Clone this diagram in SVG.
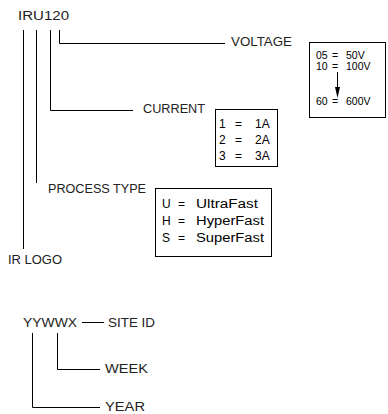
<svg xmlns="http://www.w3.org/2000/svg" width="388" height="414" viewBox="0 0 388 414">
<style>
.lbl{font-family:"Liberation Sans",Arial,sans-serif;font-size:12px;fill:#222}
.box{fill:#fff;stroke:#000;stroke-width:1}
.bt{font-family:"Liberation Sans",Arial,sans-serif;font-size:12px;fill:#000}
.vt{font-family:"Liberation Sans",Arial,sans-serif;font-size:10.5px;fill:#000}
.ln{fill:none;stroke:#000;stroke-width:1}
</style>
<g id="connectors">
<path class="ln" d="M23.5,30 V249"/>
<path class="ln" d="M36.5,30 V183"/>
<path class="ln" d="M50.5,30 V110.5 H133"/>
<path class="ln" d="M59.5,30 V43.5 H225"/>
<path class="ln" d="M82,322.5 H104"/>
<path class="ln" d="M57.5,333 V369.5 H100"/>
<path class="ln" d="M32.5,333 V407.5 H100"/>
</g>
<g id="part"><text class="lbl" x="18" y="20" textLength="51" lengthAdjust="spacingAndGlyphs">IRU120</text></g>
<g id="voltage"><text class="lbl" x="231" y="46" textLength="61" lengthAdjust="spacingAndGlyphs">VOLTAGE</text></g>
<g id="current"><text class="lbl" x="143" y="113" textLength="62" lengthAdjust="spacingAndGlyphs">CURRENT</text></g>
<g id="process"><text class="lbl" x="48" y="193" textLength="98" lengthAdjust="spacingAndGlyphs">PROCESS TYPE</text></g>
<g id="irlogo"><text class="lbl" x="8" y="264" textLength="54" lengthAdjust="spacingAndGlyphs">IR LOGO</text></g>
<g id="voltbox">
<rect class="box" x="309.5" y="42.5" width="76" height="75"/>
<text class="vt" x="316" y="59">05</text><text class="vt" x="332" y="59">=</text><text class="vt" x="346" y="59">50V</text>
<text class="vt" x="316" y="70">10</text><text class="vt" x="332" y="70">=</text><text class="vt" x="346" y="70">100V</text>
<text class="vt" x="316" y="105">60</text><text class="vt" x="332" y="105">=</text><text class="vt" x="346" y="105">600V</text>
<path class="ln" d="M337.5,72 V88"/>
<polygon points="335,87 340,87 337.5,98" fill="#000"/>
</g>
<g id="currbox">
<rect class="box" x="215.5" y="109.5" width="62" height="57"/>
<text class="bt" x="219" y="128">1</text><text class="bt" x="235" y="128">=</text><text class="bt" x="255" y="128">1A</text>
<text class="bt" x="219" y="144">2</text><text class="bt" x="235" y="144">=</text><text class="bt" x="255" y="144">2A</text>
<text class="bt" x="219" y="160">3</text><text class="bt" x="235" y="160">=</text><text class="bt" x="255" y="160">3A</text>
</g>
<g id="procbox">
<rect class="box" x="155.5" y="188.5" width="116" height="68"/>
<text class="bt" x="162" y="208">U</text><text class="bt" x="178" y="208">=</text><text class="bt" x="196" y="208" textLength="62" lengthAdjust="spacingAndGlyphs">UltraFast</text>
<text class="bt" x="162" y="225">H</text><text class="bt" x="178" y="225">=</text><text class="bt" x="196" y="225" textLength="68" lengthAdjust="spacingAndGlyphs">HyperFast</text>
<text class="bt" x="162" y="242">S</text><text class="bt" x="178" y="242">=</text><text class="bt" x="196" y="242" textLength="68" lengthAdjust="spacingAndGlyphs">SuperFast</text>
</g>
<g id="datecode"><text class="lbl" x="23" y="327" textLength="54" lengthAdjust="spacingAndGlyphs">YYWWX</text></g>
<g id="siteid"><text class="lbl" x="108" y="327" textLength="47" lengthAdjust="spacingAndGlyphs">SITE ID</text></g>
<g id="week"><text class="lbl" x="105" y="373" textLength="43" lengthAdjust="spacingAndGlyphs">WEEK</text></g>
<g id="year"><text class="lbl" x="105" y="411" textLength="40" lengthAdjust="spacingAndGlyphs">YEAR</text></g>
</svg>
